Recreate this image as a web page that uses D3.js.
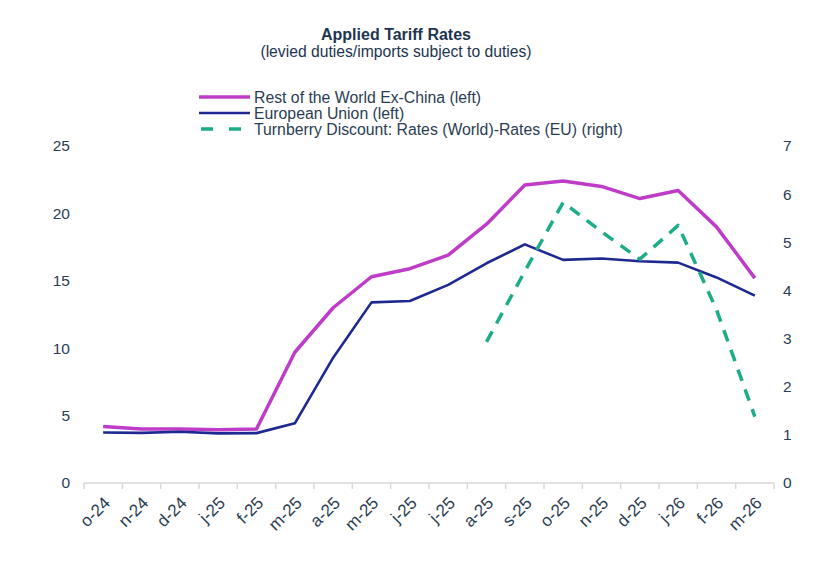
<!DOCTYPE html>
<html>
<head>
<meta charset="utf-8">
<script src="https://cdn.jsdelivr.net/npm/d3@7"></script>
<style>
  body { margin: 0; background: #fff; }
  text { font-family: "Liberation Sans", Arial, sans-serif; }
</style>
</head>
<body>
<div id="chart"></div>
<script>
const months = ["o-24", "n-24", "d-24", "j-25", "f-25", "m-25", "a-25", "m-25", "j-25",
  "j-25", "a-25", "s-25", "o-25", "n-25", "d-25", "j-26", "f-26", "m-26"];
const restOfWorld = [4.2, 4.0, 4.0, 3.95, 4.0, 9.7, 13.0, 15.3, 15.9, 16.9, 19.2, 22.1, 22.4, 22.0, 21.1, 21.7, 19.0, 15.2];
const europeanUnion = [3.75, 3.72, 3.8, 3.68, 3.7, 4.43, 9.3, 13.4, 13.5, 14.7, 16.3, 17.7, 16.55, 16.65, 16.45, 16.35, 15.25, 13.9];
const turnberry = [null, null, null, null, null, null, null, null, null, null, 2.93, 4.4, 5.83, 5.22, 4.65, 5.35, 3.6, 1.38];
const leftTicks = [0, 5, 10, 15, 20, 25];
const rightTicks = [0, 1, 2, 3, 4, 5, 6, 7];

const width = 824, height = 565;
const margin = { top: 146, right: 50, bottom: 82, left: 84 };
const textColor = "#2b3d52";

const svg = d3.select("#chart").append("svg")
  .attr("width", width)
  .attr("height", height);

const x = d3.scaleBand()
  .domain(d3.range(months.length))
  .range([margin.left, 774]);

const yLeft = d3.scaleLinear().domain([0, 25]).range([483, margin.top]);
const yRight = d3.scaleLinear().domain([0, 7]).range([483, margin.top]);

// title
svg.append("text")
  .attr("x", 396).attr("y", 40)
  .attr("text-anchor", "middle")
  .attr("font-size", 16).attr("font-weight", "bold")
  .attr("fill", "#1d3550")
  .text("Applied Tariff Rates");
svg.append("text")
  .attr("x", 396).attr("y", 57)
  .attr("text-anchor", "middle")
  .attr("font-size", 15.7)
  .attr("fill", "#1d3550")
  .text("(levied duties/imports subject to duties)");

// axes
const gx = svg.append("g").attr("transform", "translate(0,483)");
gx.append("line")
  .attr("x1", margin.left).attr("x2", 774)
  .attr("stroke", "#d9d9d9").attr("stroke-width", 1.5);
gx.selectAll(".tick")
  .data(d3.range(months.length + 1))
  .join("line")
  .attr("class", "tick")
  .attr("x1", (i) => margin.left + i * x.step())
  .attr("x2", (i) => margin.left + i * x.step())
  .attr("y1", 0).attr("y2", 6)
  .attr("stroke", "#d9d9d9").attr("stroke-width", 1.5);
gx.selectAll(".label")
  .data(months)
  .join("text")
  .attr("class", "label")
  .attr("text-anchor", "end")
  .attr("font-size", 17)
  .attr("fill", textColor)
  .attr("transform", (d, i) => `translate(${x(i) + x.bandwidth() / 2 + 8},${21}) rotate(-45)`)
  .text((d) => d);

svg.append("g")
  .selectAll("text")
  .data(leftTicks)
  .join("text")
  .attr("x", 70)
  .attr("y", (d) => yLeft(d))
  .attr("dy", "0.35em")
  .attr("text-anchor", "end")
  .attr("font-size", 15.5)
  .attr("fill", textColor)
  .text((d) => d);

svg.append("g")
  .selectAll("text")
  .data(rightTicks)
  .join("text")
  .attr("x", 783)
  .attr("y", (d) => yRight(d))
  .attr("dy", "0.35em")
  .attr("font-size", 15.5)
  .attr("fill", textColor)
  .text((d) => d);

// lines
const cx = (i) => x(i) + x.bandwidth() / 2;
const series = [
  { values: restOfWorld, y: yLeft, color: "#bf3cc8", width: 3.5, dash: null, label: "Rest of the World Ex-China (left)" },
  { values: europeanUnion, y: yLeft, color: "#1e2891", width: 2.6, dash: null, label: "European Union (left)" },
  { values: turnberry, y: yRight, color: "#1dac88", width: 3.5, dash: "12,9", label: "Turnberry Discount: Rates (World)-Rates (EU) (right)" },
];

series.forEach((s) => {
  const line = d3.line()
    .defined((d) => d != null)
    .x((d, i) => cx(i))
    .y((d) => s.y(d));
  svg.append("path")
    .datum(s.values)
    .attr("fill", "none")
    .attr("stroke", s.color)
    .attr("stroke-width", s.width)
    .attr("stroke-linejoin", "round")
    .attr("stroke-dasharray", s.dash)
    .attr("d", line);
});

// legend
const legend = svg.append("g").attr("transform", "translate(199,97)");
series.forEach((s, i) => {
  const row = legend.append("g").attr("transform", `translate(0,${i * 16})`);
  row.append("line")
    .attr("x1", s.dash ? 2 : 0).attr("x2", 51)
    .attr("stroke", s.color)
    .attr("stroke-width", s.width)
    .attr("stroke-dasharray", s.dash ? "12,16" : null);
  row.append("text")
    .attr("x", 55).attr("dy", "0.35em")
    .attr("font-size", 15.8)
    .attr("fill", textColor)
    .text(s.label);
});
</script>
</body>
</html>
